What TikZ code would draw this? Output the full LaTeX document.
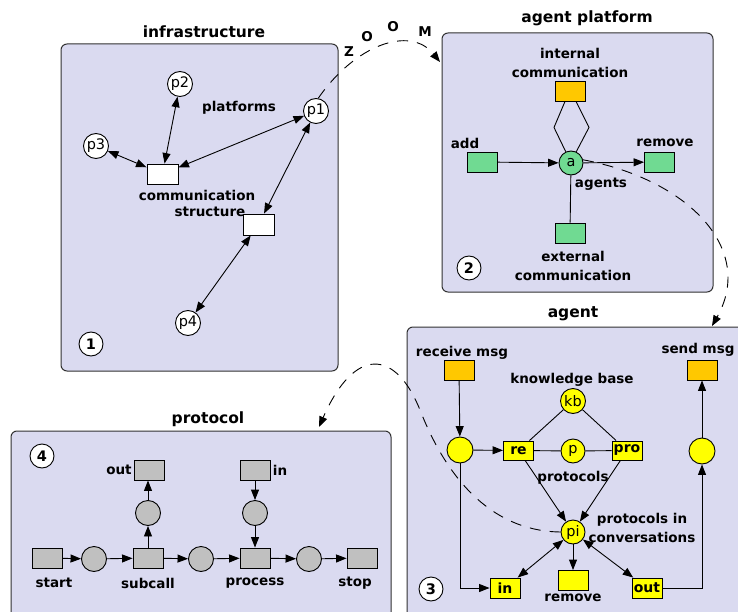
\documentclass[tikz,border=0pt]{standalone}
\usepackage{fontspec}
\setmainfont{DejaVu Sans}
\usetikzlibrary{arrows.meta}
\definecolor{panelfill}{RGB}{218,218,240}
\definecolor{panelline}{RGB}{50,50,50}
\definecolor{orangeT}{RGB}{255,200,0}
\definecolor{greenT}{RGB}{112,218,146}
\definecolor{grayT}{RGB}{192,192,192}
\definecolor{yellowT}{RGB}{255,255,0}
\begin{document}
\begin{tikzpicture}[x=1pt,y=-1pt,
  >={Triangle[length=10.5pt,width=8pt]},
  line width=0.9pt,
  panel/.style={draw=panelline, fill=panelfill, rounded corners=6pt, line width=1pt, inner sep=0pt},
  place/.style={circle, draw, minimum size=25pt, inner sep=0pt, font=\fontsize{14.5}{14.5}\selectfont},
  trans/.style={rectangle, draw, minimum width=30pt, minimum height=20pt, inner sep=0pt, font=\bfseries\fontsize{14}{14}\selectfont},
  lab/.style={inner sep=0pt, align=center, font=\bfseries\fontsize{13.5}{19}\selectfont},
  ttl/.style={inner sep=0pt, font=\bfseries\fontsize{15.5}{17}\selectfont},
  num/.style={circle, draw, fill=white, minimum size=24pt, inner sep=0pt, font=\bfseries\fontsize{14.5}{14.5}\selectfont},
  dashed2/.style={dash pattern=on 11pt off 9pt}
]
\clip (0,0) rectangle (738,612);
\fill[white] (0,0) rectangle (738,612);

% ---------- panels ----------
\node[panel, minimum width=277pt, minimum height=327pt] (P1) at (199.5,207.5) {};
\node[panel, minimum width=271pt, minimum height=259pt] (P2) at (577.5,162.5) {};
\node[panel, minimum width=353pt, minimum height=313pt] (P3) at (583.5,483.5) {};
\node[panel, minimum width=380pt, minimum height=209pt] (P4) at (201,535.5) {};

% ---------- panel 1: infrastructure ----------
\node[ttl] (t1) at (204,32) {infrastructure};
\node[place, fill=white] (p2) at (180,84) {p2};
\node[place, fill=white] (p1) at (316,111) {p1};
\node[place, fill=white] (p3) at (96,146) {p3};
\node[place, fill=white] (p4) at (188,323) {p4};
\node[lab] (lplat) at (239,108) {platforms};
\node[lab] (lcomm) at (197,195) {communication};
\node[lab] (lstruct) at (210,212) {structure};
\node[trans, fill=white, minimum width=31pt] (r1) at (162.5,174) {};
\node[trans, fill=white, minimum width=31pt, minimum height=21pt] (r2) at (258.5,224.5) {};
\node[num] (n1) at (91,344) {1};
\draw[<->] (p3) -- (r1);
\draw[<->] (p2) -- (r1);
\draw[<->] (p1) -- (r1);
\draw[<->] (p1) -- (r2);
\draw[<->] (r2) -- (p4);

% zoom arc
\coordinate (z2) at (440,62);
\draw[dashed2,->] (p1.80) .. controls (355,45) and (410,25) .. (z2);
\node[lab] (zZ) at (349,52) {Z};
\node[lab] (zO1) at (367,37) {O};
\node[lab] (zO2) at (393,27) {O};
\node[lab] (zM) at (425,32) {M};

% ---------- panel 2: agent platform ----------
\node[ttl] (t2) at (587,18) {agent platform};
\node[lab] (lint) at (570,62.5) {internal\\communication};
\node[trans, fill=orangeT] (int) at (570,91) {};
\node[place, fill=greenT, minimum size=24pt] (a) at (571,163) {a};
\node[trans, fill=greenT] (add) at (482,162) {};
\node[trans, fill=greenT] (rem) at (659.5,162) {};
\node[trans, fill=greenT] (ext) at (570,233) {};
\node[lab] (ladd) at (465,143) {add};
\node[lab] (lrem) at (665,143) {remove};
\node[lab] (lag) at (601,184) {agents};
\node[lab] (lext) at (573,265.5) {external\\communication};
\node[num] (n2) at (469,268) {2};
\draw[->] (add) -- (a);
\draw[->] (a) -- (rem);
\draw (a) -- (ext);
\draw ([xshift=-5pt]int.south) -- ++(-11,26) -- (a.115);
\draw ([xshift=6pt]int.south) -- ++(13,26) -- (a.65);

\coordinate (z3) at (712,326);
\draw[dashed2,->] (a.15) .. controls (690,180) and (755,250) .. (z3);

% ---------- panel 3: agent ----------
\node[ttl] (t3) at (573,314) {agent};
\node[lab] (lrecv) at (462,353) {receive msg};
\node[lab] (lsend) at (698,350) {send msg};
\node[lab] (lkb) at (572,380) {knowledge base};
\node[trans, fill=orangeT] (recv) at (459,370) {};
\node[trans, fill=orangeT] (send) at (702,370) {};
\node[place, fill=yellowT] (kb) at (573,401) {kb};
\node[place, fill=yellowT, minimum size=26pt] (lc) at (460,450) {};
\node[trans, fill=yellowT, minimum height=19pt] (re) at (518.5,450.5) {re};
\node[place, fill=yellowT, minimum size=24pt] (pp) at (573,451) {p};
\node[trans, fill=yellowT, minimum height=19pt] (pro) at (627,450.5) {pro};
\node[place, fill=yellowT, minimum size=26pt] (rc) at (702,451) {};
\node[lab] (lprot) at (573,478) {protocols};
\node[place, fill=yellowT, minimum size=24pt] (pi) at (573,532) {pi};
\node[lab] (lpin) at (642,527.5) {protocols in\\conversations};
\node[trans, fill=yellowT] (in) at (505,588) {in};
\node[trans, fill=yellowT] (rm) at (573,580.5) {};
\node[trans, fill=yellowT] (out) at (647,588) {out};
\node[lab] (lrm) at (573,598) {remove};
\node[num] (n3) at (431,589) {3};
\draw[->] (recv) -- (lc);
\draw[->] (lc) -- (re);
\draw (re) -- (pp) -- (pro);
\draw (kb) -- (re);
\draw (kb) -- (pro);
\draw[->] (re) -- (pi);
\draw[->] (pro) -- (pi);
\draw[->] (lc) |- (in);
\draw[<->] (pi) -- (in);
\draw[->] (pi) -- (rm);
\draw[<->] (pi) -- (out);
\draw[->] (out) -| (rc);
\draw[->] (rc) -- (send);

\coordinate (b3) at (420,410);
\coordinate (z4) at (319,427);
\draw[dashed2,->] (pi.west) .. controls (470,531) and (432,440) .. (b3)
   .. controls (396,350) and (355,345) .. (z4);

% ---------- panel 4: protocol ----------
\node[ttl] (t4) at (208,419) {protocol};
\node[num] (n4) at (42,456) {4};
\node[trans, fill=grayT] (start) at (47,558) {};
\node[place, fill=grayT] (c1) at (94,559) {};
\node[trans, fill=grayT] (subcall) at (148,558) {};
\node[place, fill=grayT] (c2) at (201,559) {};
\node[trans, fill=grayT] (process) at (255,558) {};
\node[place, fill=grayT] (c3) at (309,559) {};
\node[trans, fill=grayT] (stop) at (362,558) {};
\node[place, fill=grayT] (cu) at (148,513) {};
\node[trans, fill=grayT] (pout) at (149,470) {};
\node[place, fill=grayT] (cd) at (255,513) {};
\node[trans, fill=grayT] (pin) at (255,470) {};
\node[lab] (lout) at (119,470) {out};
\node[lab] (lin) at (280,470) {in};
\node[lab] (lstart) at (54,583) {start};
\node[lab] (lsub) at (148,583) {subcall};
\node[lab] (lproc) at (255,583) {process};
\node[lab] (lstop) at (355,583) {stop};
\draw[->] (start) -- (c1);
\draw[->] (c1) -- (subcall);
\draw[->] (subcall) -- (c2);
\draw[->] (c2) -- (process);
\draw[->] (process) -- (c3);
\draw[->] (c3) -- (stop);
\draw[->] (subcall) -- (cu);
\draw[->] (cu) -- (cu |- pout.south);
\draw[->] (pin) -- (cd);
\draw[->] (cd) -- (process);
\end{tikzpicture}
\end{document}
